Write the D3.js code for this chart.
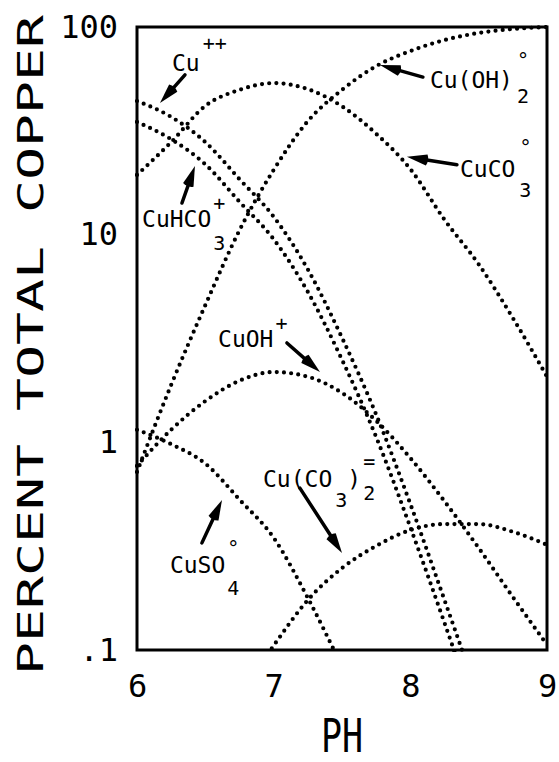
<!DOCTYPE html>
<html>
<head>
<meta charset="utf-8">
<script src="https://cdn.jsdelivr.net/npm/d3@7"></script>
<style>
  body { margin: 0; background: #fff; }
  svg { display: block; }
</style>
</head>
<body>
<div id="app"></div>
<script>
// pH grid shared by all species
const phGrid = [6, 6.25, 6.5, 6.75, 7, 7.25, 7.5, 7.75, 8, 8.25, 8.5, 8.75, 9];

// percent of total copper (null = off the chart)
const cuIon     = [44, 36.9, 27.9, 18.5, 12.2, 6.8, 3.19, 1.36, 0.505, 0.174, 0.059, null, null];
const cuHCO3    = [34.9, 28.8, 21.8, 14.4, 9.5, 5.3, 2.5, 1.06, 0.39, 0.135, 0.045, null, null];
const cuCO3     = [19.4, 27.9, 41.7, 49.8, 53.7, 50.2, 41.5, 30.6, 20.7, 11.8, 7.2, 3.97, 2.07];
const cuOH2     = [0.72, 1.89, 4.58, 10.5, 20.5, 35.2, 49.8, 64.8, 76.6, 86.5, 93.6, 97.8, 100];
const cuOH      = [0.77, 1.15, 1.58, 1.98, 2.18, 2.07, 1.73, 1.27, 0.84, 0.52, 0.31, 0.18, 0.106];
const cuSO4     = [1.15, 0.98, 0.79, 0.53, 0.347, 0.178, 0.083, null, null, null, null, null, null];
const cuCO3x2   = [null, null, null, 0.06, 0.105, 0.174, 0.248, 0.317, 0.378, 0.404, 0.404, 0.371, 0.321];

const seriesList = [cuIon, cuHCO3, cuCO3, cuOH2, cuOH, cuSO4, cuCO3x2];

const xTicks = [6, 7, 8, 9];
const yTicks = [0.1, 1, 10, 100];
const yTickLabels = ['.1', '1', '10', '100'];

// arrows: [tail pH, tail %, tip pH, tip %]
const arrows = [
  [6.351, 58.8, 6.168, 43.0],   // Cu++
  [6.329, 14.2, 6.424, 21.4],   // CuHCO3+
  [8.092, 57.4, 7.778, 65.6],   // Cu(OH)2
  [8.341, 21.7, 7.975, 23.7],   // CuCO3
  [7.097, 3.01, 7.339, 2.18],   // CuOH+
  [7.192, 0.602, 7.500, 0.293], // Cu(CO3)2=
  [6.475, 0.328, 6.622, 0.528]  // CuSO4
];

const W = 559, H = 762;
const margin = {top: 27, right: 12, bottom: 112, left: 137};

const x = d3.scaleLinear().domain([6, 9]).range([margin.left, W - margin.right]);
const y = d3.scaleLog().domain([0.1, 100]).range([H - margin.bottom, margin.top]);

const svg = d3.select('#app').append('svg')
  .attr('width', W).attr('height', H);

svg.append('clipPath').attr('id', 'plot')
  .append('rect')
  .attr('x', x(6) - 2).attr('y', y(100) - 2)
  .attr('width', x(9) - x(6) + 4).attr('height', y(0.1) - y(100) + 4);

const line = d3.line()
  .defined(d => d[1] != null)
  .x(d => x(d[0]))
  .y(d => y(d[1]))
  .curve(d3.curveMonotoneX);

svg.append('g').attr('clip-path', 'url(#plot)')
  .selectAll('path')
  .data(seriesList)
  .enter()
  .append('path')
  .attr('d', s => line(phGrid.map((p, i) => [p, s[i]])))
  .attr('fill', 'none')
  .attr('stroke', '#000')
  .attr('stroke-width', 4.2)
  .attr('stroke-linecap', 'round')
  .attr('stroke-dasharray', '0 7.2');

// frame
svg.append('rect')
  .attr('x', x(6)).attr('y', y(100))
  .attr('width', x(9) - x(6)).attr('height', y(0.1) - y(100))
  .attr('fill', 'none').attr('stroke', '#000').attr('stroke-width', 3);

const axisFont = "'DejaVu Sans Mono', monospace";

const yAxis = svg.append('g')
  .attr('transform', `translate(${x(6)},0)`)
  .call(d3.axisLeft(y).tickValues(yTicks).tickSize(0).tickPadding(19)
    .tickFormat((d, i) => yTickLabels[i]));
yAxis.select('.domain').remove();
yAxis.selectAll('text').attr('font-family', axisFont).attr('font-size', 32).attr('fill', '#000');

const xAxis = svg.append('g')
  .attr('transform', `translate(0,${y(0.1)})`)
  .call(d3.axisBottom(x).tickValues(xTicks).tickSize(0).tickPadding(24)
    .tickFormat(d3.format('d')));
xAxis.select('.domain').remove();
xAxis.selectAll('text').attr('font-family', axisFont).attr('font-size', 32).attr('fill', '#000');

// axis titles
svg.append('text')
  .attr('transform', 'translate(43,675) rotate(-90)')
  .attr('font-family', axisFont).attr('font-size', 36)
  .attr('textLength', 660).attr('lengthAdjust', 'spacingAndGlyphs')
  .text('PERCENT TOTAL COPPER');

svg.append('text')
  .attr('transform', 'translate(342,752) scale(0.76,1)')
  .attr('text-anchor', 'middle')
  .attr('font-family', axisFont).attr('font-size', 46)
  .text('PH');

// arrows
const ag = svg.append('g');
arrows.forEach(a => {
  const x1 = x(a[0]), y1 = y(a[1]), x2 = x(a[2]), y2 = y(a[3]);
  const len = Math.hypot(x2 - x1, y2 - y1);
  const ux = (x2 - x1) / len, uy = (y2 - y1) / len;
  const hl = Math.min(20, len * 0.6), hw = 5.5;
  const bx = x2 - ux * hl, by = y2 - uy * hl;
  ag.append('line')
    .attr('x1', x1).attr('y1', y1).attr('x2', bx + ux * 3).attr('y2', by + uy * 3)
    .attr('stroke', '#000').attr('stroke-width', 3.5).attr('stroke-linecap', 'round');
  ag.append('path')
    .attr('d', `M${x2},${y2}L${bx - uy * hw},${by + ux * hw}Q${bx - ux * 3},${by - uy * 3} ${bx + uy * hw},${by - ux * hw}Z`)
    .attr('fill', '#000');
});

// species labels
const labelFont = "'DejaVu Sans Mono', monospace";
function label(pH, pct, parts) {
  const t = svg.append('text')
    .attr('x', x(pH)).attr('y', y(pct))
    .attr('font-family', labelFont).attr('font-size', 23);
  parts.forEach(p => {
    const s = t.append('tspan').text(p[0]);
    if (p[1]) s.attr('dx', p[1]);
    if (p[2]) s.attr('dy', p[2]);
    if (p[3]) s.attr('font-size', p[3]);
  });
}

label(6.256, 61.4, [['Cu'], ['++', 3, -21, 20]]);
label(6.037, 10.9, [['CuHCO'], ['3', 2, 23, 20], ['+', -12, -40, 20]]);
label(8.143, 50.8, [['Cu(OH)'], ['2', 4, 15, 20], ['°', -12, -36, 20]]);
label(8.363, 19.0, [['CuCO'], ['3', 4, 20, 20], ['°', -12, -43, 20]]);
label(6.593, 2.88, [['CuOH'], ['+', 2, -17, 20]]);
label(6.922, 0.61, [['Cu(CO'], ['3', 3, 20, 20], [')', 0, -20], ['2', 2, 13, 20], ['=', -12, -32, 20]]);
label(6.241, 0.235, [['CuSO'], ['4', 2, 22, 20], ['°', -12, -40, 20]]);
</script>
</body>
</html>
